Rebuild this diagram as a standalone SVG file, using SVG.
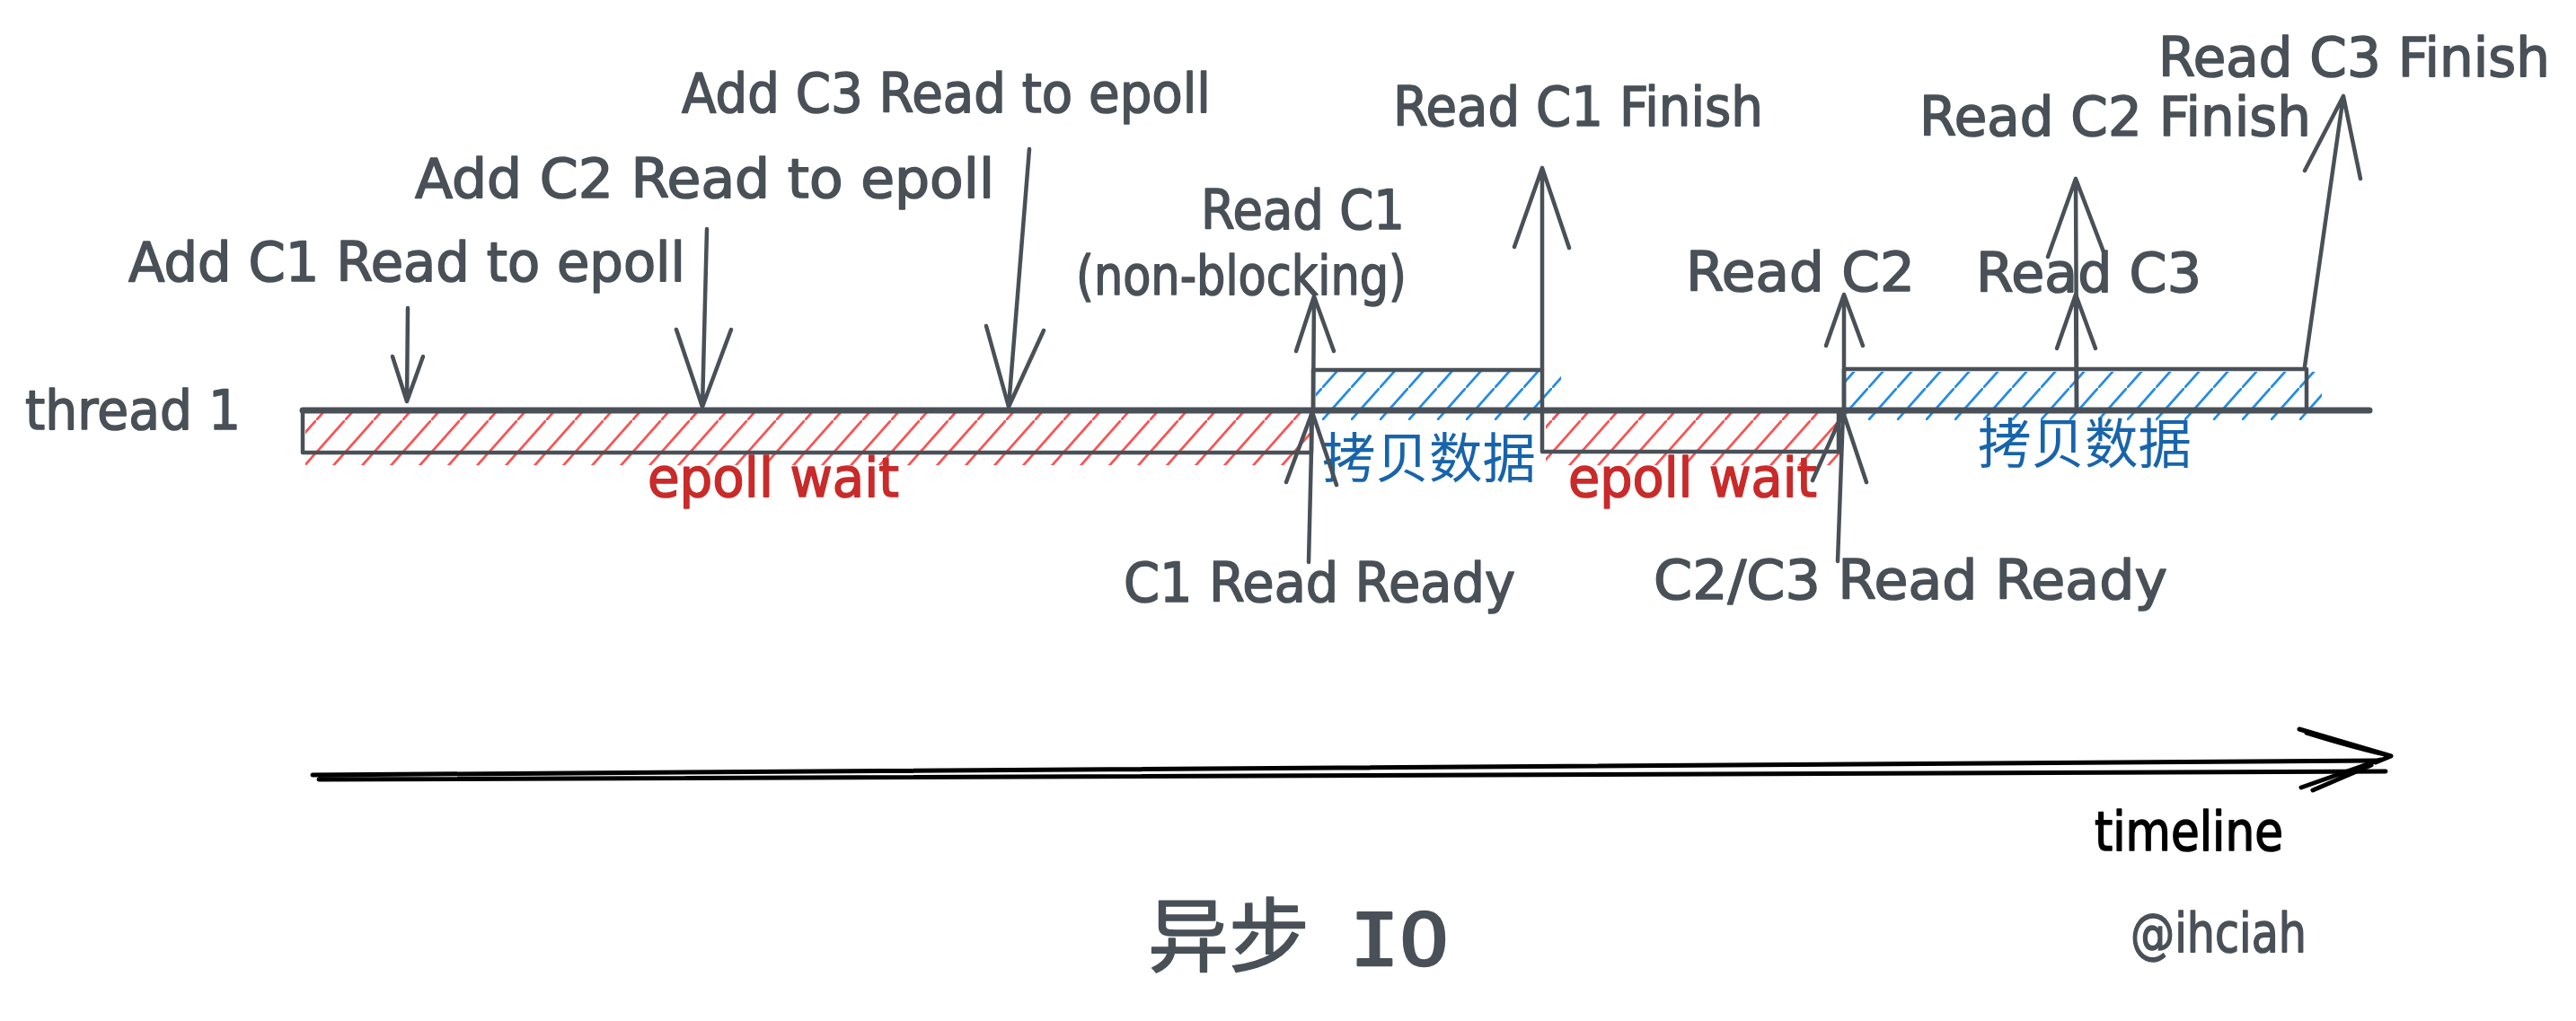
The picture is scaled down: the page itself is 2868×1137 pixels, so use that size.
<svg xmlns="http://www.w3.org/2000/svg" width="2868" height="1137" viewBox="0 0 2868 1137">
<style>
.s{fill:none;stroke:#495057;stroke-width:4.5;stroke-linecap:round;stroke-linejoin:round}
.thick{stroke-width:7}
.k{fill:none;stroke:#000;stroke-width:5;stroke-linecap:round;stroke-linejoin:round}
.t{font-family:"DejaVu Sans","Noto Sans CJK SC",sans-serif;font-size:60px;fill:#495057;stroke:#495057;stroke-width:1.6;stroke-linejoin:round}
.red{fill:#c92a2a;stroke:#c92a2a}
.cn{font-family:"Noto Sans CJK SC",sans-serif;font-size:60px;fill:#1864ab}
.blk{fill:#000;stroke:#000}
</style>
<defs>
<pattern id="hr" patternUnits="userSpaceOnUse" width="32" height="36">
<path d="M-4 40.5 L36 -4.5" stroke="#fa5252" stroke-width="2.8" fill="none"/>
</pattern>
<pattern id="hb" patternUnits="userSpaceOnUse" width="32" height="36">
<path d="M-4 40.5 L36 -4.5" stroke="#228be6" stroke-width="2.8" fill="none"/>
</pattern>
</defs>
<rect width="2868" height="1137" fill="#fff"/>

<g id="epoll-wait-1">
<rect x="340" y="460" width="1120" height="58" fill="url(#hr)"/>
<path class="s" d="M337 457 L337 504 L1460 504 L1460 457"/>
<text class="t red" x="721" y="553" textLength="280" lengthAdjust="spacingAndGlyphs">epoll wait</text>
</g>
<g id="copy-1">
<rect x="1465" y="414" width="273" height="54" fill="url(#hb)"/>
<path class="s" d="M1462 457 L1462 412 L1717 412 L1717 457"/>
<text class="cn" x="1472" y="532" textLength="238" lengthAdjust="spacingAndGlyphs">拷贝数据</text>
</g>
<g id="epoll-wait-2">
<rect x="1721" y="460" width="330" height="58" fill="url(#hr)"/>
<path class="s" d="M1717 457 L1717 503 L2047 503 L2047 457"/>
<text class="t red" x="1746" y="553" textLength="277" lengthAdjust="spacingAndGlyphs">epoll wait</text>
</g>
<g id="copy-2">
<rect x="2055" y="414" width="530" height="54" fill="url(#hb)"/>
<path class="s" d="M2053 457 L2053 411 L2568 411 L2568 457 M2312 411 L2312 457"/>
<text class="cn" x="2202" y="516" textLength="238" lengthAdjust="spacingAndGlyphs">拷贝数据</text>
</g>
<g id="thread-1">
<path class="s thick" d="M337 457 L2638 457"/>
<text class="t" x="28" y="478" textLength="240" lengthAdjust="spacingAndGlyphs">thread 1</text>
</g>

<g id="connectors">
<path class="s" d="M454 343 L453 447 M437 397 L453 447 L471 397"/>
<path class="s" d="M787 255 L782 453 M753 367 L782 453 L814 367"/>
<path class="s" d="M1146 166 L1123 453 M1098 363 L1123 453 L1162 368"/>
<path class="s" d="M1462 457 L1463 330 M1443 391 L1463 330 L1485 391"/>
<path class="s" d="M1457 626 L1461 459 M1432 537 L1461 459 L1488 540"/>
<path class="s" d="M1717 412 L1717 187 M1686 275 L1717 187 L1747 276"/>
<path class="s" d="M2053 457 L2053 328 M2033 385 L2053 328 L2074 385"/>
<path class="s" d="M2046 625 L2052 459 M2018 535 L2052 459 L2078 537"/>
<path class="s" d="M2312 457 L2311 328 M2290 388 L2311 328 L2333 388"/>
<path class="s" d="M2312 411 L2311 199 M2280 286 L2311 199 L2343 283"/>
<path class="s" d="M2566 408 L2609 107 M2566 190 L2609 107 L2628 199"/>
</g>

<g id="labels">
<text class="t" x="759" y="125" font-size="57" textLength="589" lengthAdjust="spacingAndGlyphs">Add C3 Read to epoll</text>
<text class="t" x="462" y="220" font-size="62" textLength="645" lengthAdjust="spacingAndGlyphs">Add C2 Read to epoll</text>
<text class="t" x="143" y="313" textLength="620" lengthAdjust="spacingAndGlyphs">Add C1 Read to epoll</text>
<text class="t" x="1337" y="255" textLength="227" lengthAdjust="spacingAndGlyphs">Read C1</text>
<text class="t" x="1198" y="328" textLength="368" lengthAdjust="spacingAndGlyphs">(non-blocking)</text>
<text class="t" x="1551" y="140" textLength="412" lengthAdjust="spacingAndGlyphs">Read C1 Finish</text>
<text class="t" x="1877" y="324" textLength="255" lengthAdjust="spacingAndGlyphs">Read C2</text>
<text class="t" x="2200" y="325" textLength="251" lengthAdjust="spacingAndGlyphs">Read C3</text>
<text class="t" x="2137" y="151" textLength="436" lengthAdjust="spacingAndGlyphs">Read C2 Finish</text>
<text class="t" x="2403" y="85" textLength="436" lengthAdjust="spacingAndGlyphs">Read C3 Finish</text>
<text class="t" x="1251" y="670" textLength="436" lengthAdjust="spacingAndGlyphs">C1 Read Ready</text>
<text class="t" x="1841" y="667" textLength="572" lengthAdjust="spacingAndGlyphs">C2/C3 Read Ready</text>
</g>

<g id="timeline">
<path class="k" d="M348 863 L2647 847 M355 868 L2656 859"/>
<path class="k" d="M2560 812 Q2615 828 2662 842 L2645 849 M2568 816 Q2620 832 2655 840 M2562 877 L2650 846 M2575 880 L2640 852"/>
<text class="t blk" x="2332" y="947" font-size="56" textLength="210" lengthAdjust="spacingAndGlyphs">timeline</text>
</g>

<g id="title">
<text class="t" y="1075" stroke-width="0"><tspan x="1278" font-family="Noto Sans CJK SC, sans-serif" font-size="90">异步 </tspan><tspan x="1503" font-family="DejaVu Sans Mono, monospace" font-size="80" stroke-width="2.5" textLength="110" lengthAdjust="spacingAndGlyphs">IO</tspan></text>
</g>
<g id="credit">
<text class="t" x="2372" y="1060" font-size="52" textLength="196" lengthAdjust="spacingAndGlyphs">@ihciah</text>
</g>
</svg>
